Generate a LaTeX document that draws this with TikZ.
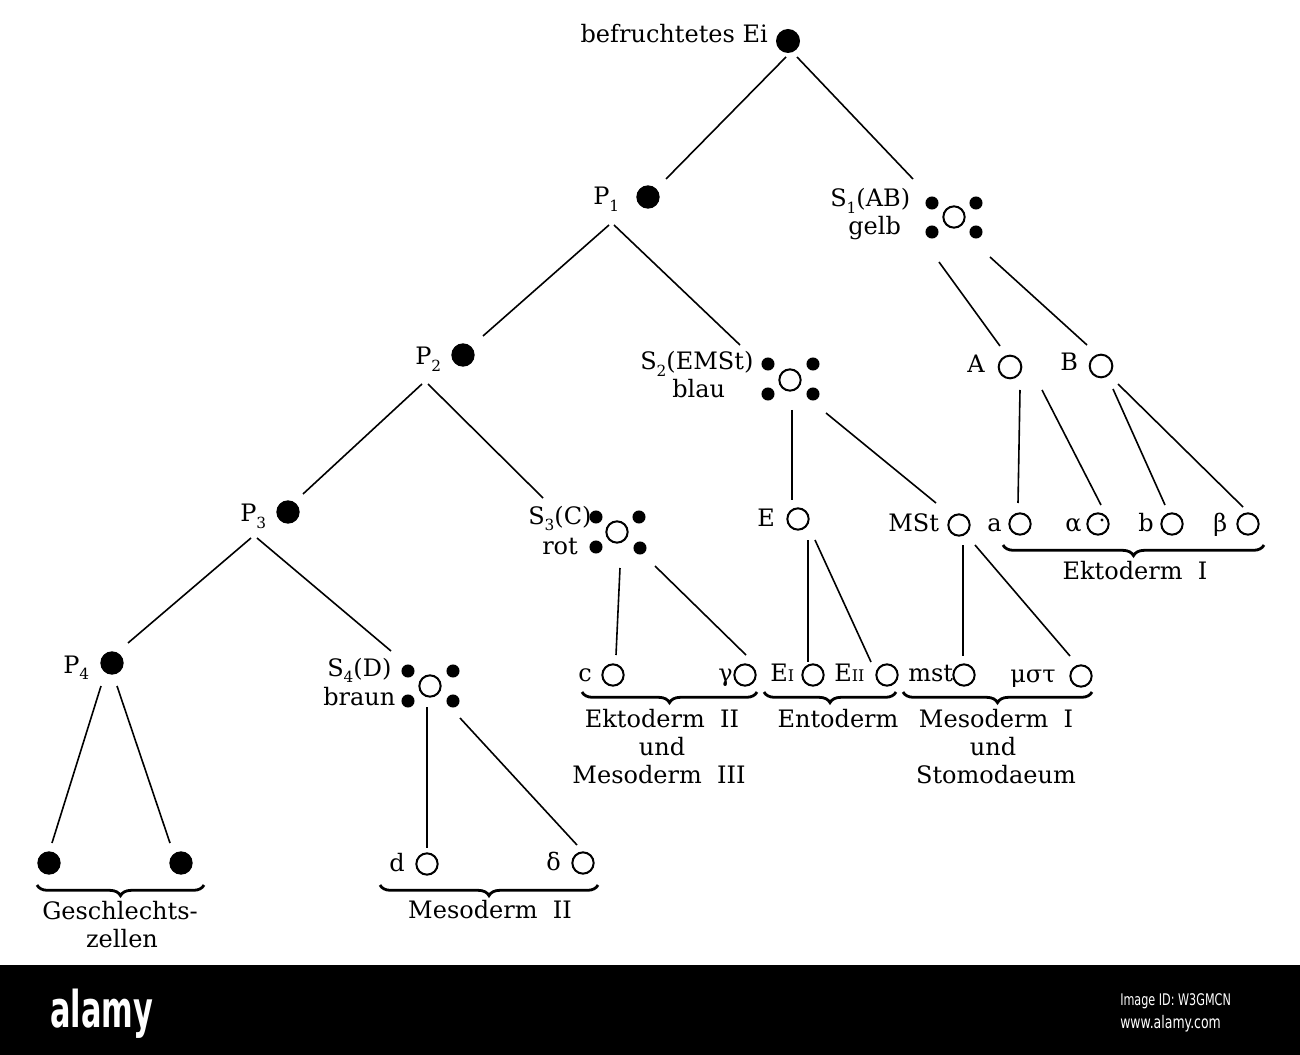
\documentclass[tikz,border=0pt]{standalone}
\usepackage{fontspec}
\setmainfont{DejaVu Serif}
\newfontfamily\wmsans{DejaVu Sans}
\usetikzlibrary{decorations.pathreplacing}
\newcommand\sbi[1]{\raisebox{-0.55ex}{\fontsize{11.5}{11.5}\selectfont #1}}
\newcommand\rmn[1]{{\fontsize{12}{12}\selectfont #1}}
\begin{document}
\begin{tikzpicture}[x=0.75pt,y=-0.75pt,
  lbl/.style={inner sep=0, font=\fontsize{18}{21}\selectfont},
  fdot/.style={circle, fill=black, draw=none, inner sep=0, minimum size=17.5pt},
  odot/.style={circle, draw=black, line width=1.5pt, fill=white, inner sep=0, minimum size=16pt},
  sdot/.style={circle, fill=black, draw=none, inner sep=0, minimum size=9.8pt},
  edge/.style={line width=1.2pt},
  brc/.style={decorate, decoration={brace, mirror, amplitude=8pt}, line width=2.1pt}]
\useasboundingbox (0,0) rectangle (1300,1055);
\fill[white] (0,0) rectangle (1300,965);
\fill[black] (0,965) rectangle (1300,1055);

% ---- level 0
\node[lbl, anchor=base east] (tEi) at (768,43) {befruchtetes Ei};
\node[fdot, minimum size=18pt] (Ei) at (788,41) {};

% ---- level 1
\node[lbl, anchor=base west] (tP1) at (593,205) {P\sbi{1}};
\node[fdot] (P1) at (648,197) {};
\node[lbl, anchor=base west] (tS1) at (830,207) {S\sbi{1}(AB)};
\node[lbl, anchor=base west] (tS1b) at (848,235) {gelb};
\node[odot] (S1) at (954,217) {};
\node[sdot] (S1a) at (932,203) {};
\node[sdot] (S1b) at (976,203) {};
\node[sdot] (S1c) at (932,232) {};
\node[sdot] (S1d) at (976,232) {};

% ---- level 2
\node[lbl, anchor=base west] (tP2) at (415,365) {P\sbi{2}};
\node[fdot] (P2) at (463,355) {};
\node[lbl, anchor=base west] (tS2) at (640,370) {S\sbi{2}(EMSt)};
\node[lbl, anchor=base west] (tS2b) at (672,398) {blau};
\node[odot] (S2) at (790,380) {};
\node[sdot] (S2a) at (768,364) {};
\node[sdot] (S2b) at (813,364) {};
\node[sdot] (S2c) at (768,394) {};
\node[sdot] (S2d) at (813,394) {};
\node[lbl, anchor=base west] (tA) at (967,373) {A};
\node[odot, minimum size=17pt] (A) at (1010,367) {};
\node[lbl, anchor=base west] (tB) at (1060,371) {B};
\node[odot, minimum size=17pt] (B) at (1101,366) {};

% ---- level 3
\node[lbl, anchor=base west] (tP3) at (240,522) {P\sbi{3}};
\node[fdot] (P3) at (288,512) {};
\node[lbl, anchor=base west] (tS3) at (528,524) {S\sbi{3}(C)};
\node[lbl, anchor=base west] (tS3b) at (542,554) {rot};
\node[odot] (S3) at (617,532) {};
\node[sdot] (S3a) at (596,517) {};
\node[sdot] (S3b) at (639,517) {};
\node[sdot] (S3c) at (596,547) {};
\node[sdot] (S3d) at (640,548) {};
\node[lbl, anchor=base west] (tE) at (757,527) {E};
\node[odot] (E) at (798,519) {};
\node[lbl, anchor=base west] (tMSt) at (888,532) {MSt};
\node[odot] (MSt) at (959,525) {};
\node[lbl, anchor=base west] (ta) at (987,532) {a};
\node[odot] (a) at (1020,524) {};
\node[lbl, anchor=base west] (tal) at (1065,532) {α};
\node[odot] (al) at (1098,524) {};
\fill (1102,520) circle (1.6);
\node[lbl, anchor=base west] (tb) at (1138,532) {b};
\node[odot] (b) at (1172,524) {};
\node[lbl, anchor=base west] (tbe) at (1213,532) {β};
\node[odot] (be) at (1248,524) {};
\draw[brc] (1003,545) -- (1264,545);
\node[lbl, anchor=base] (tEk1) at (1135,580) {Ektoderm\ \ I};

% ---- level 4
\node[lbl, anchor=base west] (tP4) at (63,673) {P\sbi{4}};
\node[fdot] (P4) at (112,663) {};
\node[lbl, anchor=base west] (tS4) at (327,676) {S\sbi{4}(D)};
\node[lbl, anchor=base west] (tS4b) at (323,705) {braun};
\node[odot] (S4) at (430,686) {};
\node[sdot] (S4a) at (408,671) {};
\node[sdot] (S4b) at (453,671) {};
\node[sdot] (S4c) at (408,701) {};
\node[sdot] (S4d) at (453,701) {};
\node[lbl, anchor=base west] (tc) at (578,681) {c};
\node[odot] (c) at (613,675) {};
\node[lbl, anchor=base west] (tga) at (718,681) {γ};
\node[odot] (ga) at (745,675) {};
\draw[brc] (582,692) -- (757,692);
\node[lbl, anchor=base] (tEk2) at (662,727) {Ektoderm\ \ II};
\node[lbl, anchor=base] (tund1) at (662,755) {und};
\node[lbl, anchor=base] (tMe3) at (659,783) {Mesoderm\ \ III};
\node[lbl, anchor=base west] (tE1) at (770,681) {E\rmn{I}};
\node[odot] (E1) at (813,675) {};
\node[lbl, anchor=base west] (tE2) at (834,681) {E\rmn{II}};
\node[odot] (E2) at (887,675) {};
\draw[brc] (764,692) -- (896,692);
\node[lbl, anchor=base] (tEnt) at (838,727) {Entoderm};
\node[lbl, anchor=base west] (tmst) at (908,681) {mst};
\node[odot] (mst) at (964,675) {};
\node[lbl, anchor=base west] (tmu) at (1010,682) {μστ};
\node[odot] (mu) at (1081,676) {};
\draw[brc] (903,692) -- (1092,692);
\node[lbl, anchor=base] (tMe1) at (996,727) {Mesoderm\ \ I};
\node[lbl, anchor=base] (tund2) at (993,755) {und};
\node[lbl, anchor=base] (tSto) at (996,783) {Stomodaeum};

% ---- level 5
\node[fdot] (G1) at (49,863) {};
\node[fdot] (G2) at (181,863) {};
\draw[brc] (37,885) -- (204,885);
\node[lbl, anchor=base] (tG1) at (120,919) {Geschlechts-};
\node[lbl, anchor=base] (tG2) at (122,947) {zellen};
\node[lbl, anchor=base west] (td) at (389,871) {d};
\node[odot] (d) at (427,864) {};
\node[lbl, anchor=base west] (tde) at (546,870) {δ};
\node[odot] (de) at (583,863) {};
\draw[brc] (380,885) -- (598,885);
\node[lbl, anchor=base] (tMe2) at (490,918) {Mesoderm\ \ II};

% ---- connectors
\coordinate (Ei-o1) at (786,57);  \coordinate (P1-i) at (666,179);
\coordinate (Ei-o2) at (797,57);  \coordinate (S1-i) at (913,179);
\coordinate (P1-o1) at (609,225); \coordinate (P2-i) at (483,336);
\coordinate (P1-o2) at (614,225); \coordinate (S2-i) at (740,345);
\coordinate (S1-o1) at (939,262); \coordinate (A-i) at (1000,346);
\coordinate (S1-o2) at (990,257); \coordinate (B-i) at (1087,345);
\coordinate (P2-o1) at (422,384); \coordinate (P3-i) at (303,494);
\coordinate (P2-o2) at (428,384); \coordinate (S3-i) at (543,498);
\coordinate (S2-o1) at (792,410); \coordinate (E-i) at (792,500);
\coordinate (S2-o2) at (826,413); \coordinate (MSt-i) at (936,503);
\coordinate (A-o1) at (1020,390); \coordinate (a-i) at (1018,503);
\coordinate (A-o2) at (1042,390); \coordinate (al-i) at (1101,505);
\coordinate (B-o1) at (1113,389); \coordinate (b-i) at (1165,505);
\coordinate (B-o2) at (1118,384); \coordinate (be-i) at (1243,507);
\coordinate (P3-o1) at (251,538); \coordinate (P4-i) at (128,643);
\coordinate (P3-o2) at (257,538); \coordinate (S4-i) at (391,651);
\coordinate (S3-o1) at (620,568); \coordinate (c-i) at (616,655);
\coordinate (S3-o2) at (655,566); \coordinate (ga-i) at (746,655);
\coordinate (E-o1) at (808,540);  \coordinate (E1-i) at (808,662);
\coordinate (E-o2) at (815,540);  \coordinate (E2-i) at (871,662);
\coordinate (MSt-o1) at (963,545); \coordinate (mst-i) at (963,656);
\coordinate (MSt-o2) at (975,545); \coordinate (mu-i) at (1070,656);
\coordinate (P4-o1) at (101,686); \coordinate (G1-i) at (52,843);
\coordinate (P4-o2) at (117,686); \coordinate (G2-i) at (170,843);
\coordinate (S4-o1) at (427,707); \coordinate (d-i) at (427,848);
\coordinate (S4-o2) at (460,718); \coordinate (de-i) at (577,845);
\foreach \s/\t in {Ei-o1/P1-i, Ei-o2/S1-i, P1-o1/P2-i, P1-o2/S2-i, S1-o1/A-i, S1-o2/B-i,
  P2-o1/P3-i, P2-o2/S3-i, S2-o1/E-i, S2-o2/MSt-i, A-o1/a-i, A-o2/al-i, B-o1/b-i, B-o2/be-i,
  P3-o1/P4-i, P3-o2/S4-i, S3-o1/c-i, S3-o2/ga-i, E-o1/E1-i, E-o2/E2-i, MSt-o1/mst-i, MSt-o2/mu-i,
  P4-o1/G1-i, P4-o2/G2-i, S4-o1/d-i, S4-o2/de-i}
  \draw[edge] (\s) -- (\t);

% ---- watermark band
\node[white, inner sep=0, anchor=base west, font=\wmsans\bfseries\fontsize{38}{40}\selectfont] (wm) at (50,1027) {\scalebox{0.6}[1]{alamy}};
\node[white, inner sep=0, anchor=base west, font=\wmsans\fontsize{12}{14}\selectfont] (wid) at (1120,1005) {\scalebox{0.7}[1]{Image ID: W3GMCN}};
\node[white, inner sep=0, anchor=base west, font=\wmsans\fontsize{13}{15}\selectfont] (wurl) at (1120,1028) {\scalebox{0.72}[1]{www.alamy.com}};
\end{tikzpicture}
\end{document}
